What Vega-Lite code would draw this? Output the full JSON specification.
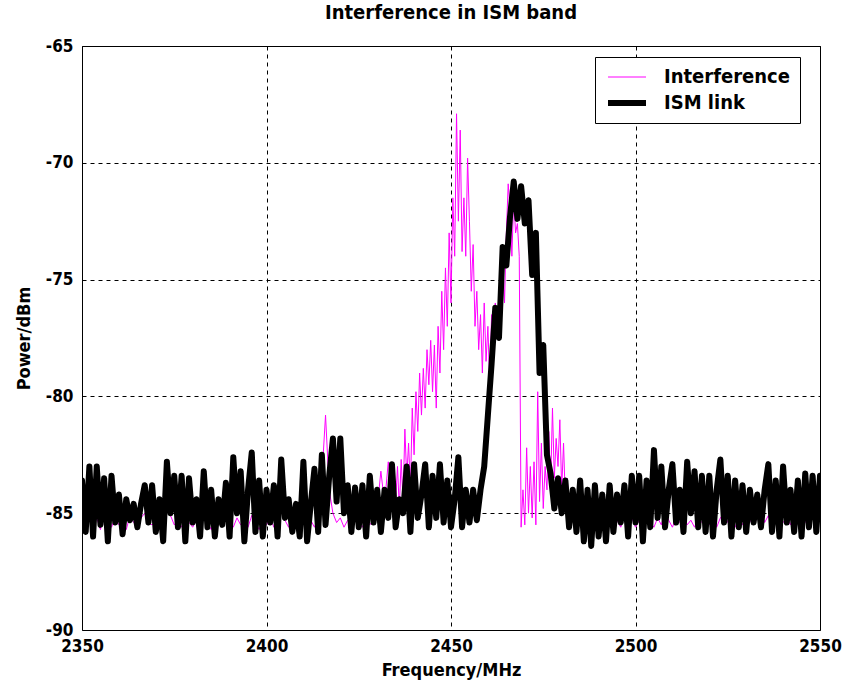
{
  "$schema": "https://vega.github.io/schema/vega-lite/v6.json",
  "width": 738,
  "height": 584,
  "autosize": "none",
  "padding": {"left": 82, "top": 46, "right": 23, "bottom": 60},
  "background": "white",
  "config": {
    "font": "DejaVu Sans Condensed, DejaVu Sans",
    "view": {"stroke": "black", "strokeWidth": 1},
    "axis": {
      "labelFont": "DejaVu Sans Condensed, DejaVu Sans", "labelFontWeight": "bold", "labelFontSize": 17, "labelColor": "black",
      "titleFont": "DejaVu Sans Condensed, DejaVu Sans", "titleFontWeight": "bold", "titleFontSize": 18, "titleColor": "black",
      "grid": true, "gridColor": "black", "gridDash": [4, 4], "gridOpacity": 1, "gridWidth": 1,
      "ticks": false, "domain": false
    },
    "title": {"font": "DejaVu Sans Condensed, DejaVu Sans", "fontWeight": "bold", "fontSize": 20, "color": "black"}
  },
  "title": {"text": "Interference in ISM band", "anchor": "middle", "offset": 14},
  "data": {"values": [
{"s":"Interference","f":2350,"p":-85.3},{"s":"Interference","f":2351,"p":-85.6},{"s":"Interference","f":2352,"p":-85.1},{"s":"Interference","f":2353,"p":-85.5},{"s":"Interference","f":2354,"p":-85.2},{"s":"Interference","f":2355,"p":-85.7},{"s":"Interference","f":2356,"p":-85.0},{"s":"Interference","f":2357,"p":-85.4},{"s":"Interference","f":2358,"p":-85.6},{"s":"Interference","f":2359,"p":-85.2},
{"s":"Interference","f":2360,"p":-85.5},{"s":"Interference","f":2361,"p":-85.3},{"s":"Interference","f":2362,"p":-85.7},{"s":"Interference","f":2363,"p":-85.1},{"s":"Interference","f":2364,"p":-85.4},{"s":"Interference","f":2365,"p":-85.6},{"s":"Interference","f":2366,"p":-85.2},{"s":"Interference","f":2367,"p":-85.0},{"s":"Interference","f":2368,"p":-85.4},{"s":"Interference","f":2369,"p":-85.5},
{"s":"Interference","f":2370,"p":-85.3},{"s":"Interference","f":2371,"p":-85.6},{"s":"Interference","f":2372,"p":-85.2},{"s":"Interference","f":2373,"p":-84.8},{"s":"Interference","f":2374,"p":-85.1},{"s":"Interference","f":2375,"p":-85.5},{"s":"Interference","f":2376,"p":-85.3},{"s":"Interference","f":2377,"p":-85.6},{"s":"Interference","f":2378,"p":-85.2},{"s":"Interference","f":2379,"p":-85.4},
{"s":"Interference","f":2380,"p":-85.6},{"s":"Interference","f":2381,"p":-85.3},{"s":"Interference","f":2382,"p":-85.5},{"s":"Interference","f":2383,"p":-85.1},{"s":"Interference","f":2384,"p":-85.4},{"s":"Interference","f":2385,"p":-85.7},{"s":"Interference","f":2386,"p":-85.2},{"s":"Interference","f":2387,"p":-85.5},{"s":"Interference","f":2388,"p":-85.3},{"s":"Interference","f":2389,"p":-85.0},
{"s":"Interference","f":2390,"p":-85.4},{"s":"Interference","f":2391,"p":-85.6},{"s":"Interference","f":2392,"p":-85.2},{"s":"Interference","f":2393,"p":-85.5},{"s":"Interference","f":2394,"p":-85.3},{"s":"Interference","f":2395,"p":-85.6},{"s":"Interference","f":2396,"p":-85.1},{"s":"Interference","f":2397,"p":-85.4},{"s":"Interference","f":2398,"p":-85.7},{"s":"Interference","f":2399,"p":-85.3},
{"s":"Interference","f":2400,"p":-85.5},{"s":"Interference","f":2401,"p":-85.2},{"s":"Interference","f":2402,"p":-85.6},{"s":"Interference","f":2403,"p":-85.4},{"s":"Interference","f":2404,"p":-84.9},{"s":"Interference","f":2405,"p":-85.3},{"s":"Interference","f":2406,"p":-85.6},{"s":"Interference","f":2407,"p":-85.2},{"s":"Interference","f":2408,"p":-85.5},{"s":"Interference","f":2409,"p":-85.4},
{"s":"Interference","f":2410,"p":-85.1},{"s":"Interference","f":2411,"p":-85.5},{"s":"Interference","f":2412,"p":-85.3},{"s":"Interference","f":2413,"p":-85.6},{"s":"Interference","f":2414,"p":-85.2},{"s":"Interference","f":2415,"p":-83.5},{"s":"Interference","f":2416,"p":-80.8},{"s":"Interference","f":2417,"p":-84.0},{"s":"Interference","f":2418,"p":-85.0},{"s":"Interference","f":2419,"p":-85.4},
{"s":"Interference","f":2420,"p":-85.2},{"s":"Interference","f":2421,"p":-85.6},{"s":"Interference","f":2422,"p":-85.3},{"s":"Interference","f":2423,"p":-85.5},{"s":"Interference","f":2424,"p":-85.1},{"s":"Interference","f":2425,"p":-85.4},{"s":"Interference","f":2426,"p":-85.6},{"s":"Interference","f":2427,"p":-85.2},{"s":"Interference","f":2428,"p":-85.5},{"s":"Interference","f":2429,"p":-85.3},
{"s":"Interference","f":2430,"p":-84.8},{"s":"Interference","f":2431,"p":-83.2},{"s":"Interference","f":2432,"p":-84.6},{"s":"Interference","f":2433,"p":-82.8},{"s":"Interference","f":2434,"p":-84.2},
{"s":"Interference","f":2435,"p":-84.5},{"s":"Interference","f":2435.5,"p":-83.0},{"s":"Interference","f":2436,"p":-84.8},{"s":"Interference","f":2436.5,"p":-82.7},{"s":"Interference","f":2437,"p":-84.5},{"s":"Interference","f":2437.5,"p":-81.4},{"s":"Interference","f":2438,"p":-83.5},{"s":"Interference","f":2438.5,"p":-82.0},{"s":"Interference","f":2439,"p":-84.0},{"s":"Interference","f":2439.5,"p":-80.5},
{"s":"Interference","f":2440,"p":-82.5},{"s":"Interference","f":2440.5,"p":-79.8},{"s":"Interference","f":2441,"p":-81.5},{"s":"Interference","f":2441.5,"p":-79.0},{"s":"Interference","f":2442,"p":-80.8},{"s":"Interference","f":2442.5,"p":-78.8},{"s":"Interference","f":2443,"p":-80.5},{"s":"Interference","f":2443.5,"p":-78.0},{"s":"Interference","f":2444,"p":-79.5},{"s":"Interference","f":2444.5,"p":-77.6},
{"s":"Interference","f":2445,"p":-79.8},{"s":"Interference","f":2445.5,"p":-77.8},{"s":"Interference","f":2446,"p":-80.5},{"s":"Interference","f":2446.5,"p":-77.0},{"s":"Interference","f":2447,"p":-79.0},{"s":"Interference","f":2447.5,"p":-75.5},{"s":"Interference","f":2448,"p":-78.0},{"s":"Interference","f":2448.5,"p":-74.5},{"s":"Interference","f":2449,"p":-77.0},{"s":"Interference","f":2449.5,"p":-73.0},
{"s":"Interference","f":2450,"p":-76.0},{"s":"Interference","f":2450.5,"p":-71.5},{"s":"Interference","f":2451,"p":-74.0},{"s":"Interference","f":2451.5,"p":-67.9},{"s":"Interference","f":2452,"p":-72.5},{"s":"Interference","f":2452.5,"p":-68.6},{"s":"Interference","f":2453,"p":-73.8},{"s":"Interference","f":2453.5,"p":-71.5},{"s":"Interference","f":2454,"p":-74.0},{"s":"Interference","f":2454.5,"p":-69.8},
{"s":"Interference","f":2455,"p":-72.5},{"s":"Interference","f":2455.5,"p":-75.5},{"s":"Interference","f":2456,"p":-73.5},{"s":"Interference","f":2456.5,"p":-77.0},{"s":"Interference","f":2457,"p":-75.5},{"s":"Interference","f":2457.5,"p":-78.0},{"s":"Interference","f":2458,"p":-76.5},{"s":"Interference","f":2458.5,"p":-79.0},{"s":"Interference","f":2459,"p":-76.0},{"s":"Interference","f":2459.5,"p":-78.5},
{"s":"Interference","f":2460,"p":-77.0},{"s":"Interference","f":2460.5,"p":-79.5},{"s":"Interference","f":2461,"p":-76.5},{"s":"Interference","f":2461.5,"p":-78.0},{"s":"Interference","f":2462,"p":-76.0},{"s":"Interference","f":2462.5,"p":-77.5},{"s":"Interference","f":2463,"p":-75.5},{"s":"Interference","f":2463.5,"p":-77.0},{"s":"Interference","f":2464,"p":-74.0},{"s":"Interference","f":2464.5,"p":-76.0},
{"s":"Interference","f":2465,"p":-73.0},{"s":"Interference","f":2465.5,"p":-70.9},{"s":"Interference","f":2466,"p":-72.0},{"s":"Interference","f":2466.5,"p":-74.0},{"s":"Interference","f":2467,"p":-71.5},{"s":"Interference","f":2467.5,"p":-73.0},{"s":"Interference","f":2468,"p":-72.6},{"s":"Interference","f":2468.5,"p":-74.0},{"s":"Interference","f":2469,"p":-85.6},{"s":"Interference","f":2469.5,"p":-84.0},
{"s":"Interference","f":2470,"p":-85.5},{"s":"Interference","f":2470.5,"p":-82.2},{"s":"Interference","f":2471,"p":-85.0},{"s":"Interference","f":2471.5,"p":-83.0},{"s":"Interference","f":2472,"p":-85.2},{"s":"Interference","f":2472.5,"p":-82.8},{"s":"Interference","f":2473,"p":-85.5},{"s":"Interference","f":2473.5,"p":-79.8},{"s":"Interference","f":2474,"p":-84.5},{"s":"Interference","f":2474.5,"p":-82.0},
{"s":"Interference","f":2475,"p":-84.8},{"s":"Interference","f":2475.5,"p":-83.0},{"s":"Interference","f":2476,"p":-84.0},{"s":"Interference","f":2476.5,"p":-81.5},{"s":"Interference","f":2477,"p":-83.8},{"s":"Interference","f":2477.5,"p":-80.5},{"s":"Interference","f":2478,"p":-83.5},{"s":"Interference","f":2478.5,"p":-81.8},{"s":"Interference","f":2479,"p":-83.0},{"s":"Interference","f":2479.5,"p":-81.0},
{"s":"Interference","f":2480,"p":-84.0},{"s":"Interference","f":2480.5,"p":-82.0},{"s":"Interference","f":2481,"p":-84.5},{"s":"Interference","f":2481.5,"p":-83.5},{"s":"Interference","f":2482,"p":-85.0},{"s":"Interference","f":2482.5,"p":-84.0},{"s":"Interference","f":2483,"p":-85.3},{"s":"Interference","f":2483.5,"p":-84.6},{"s":"Interference","f":2484,"p":-85.5},{"s":"Interference","f":2484.5,"p":-85.0},
{"s":"Interference","f":2485,"p":-85.3},
{"s":"Interference","f":2486,"p":-85.3},{"s":"Interference","f":2487,"p":-85.6},{"s":"Interference","f":2488,"p":-85.2},{"s":"Interference","f":2489,"p":-85.5},{"s":"Interference","f":2490,"p":-85.0},{"s":"Interference","f":2491,"p":-85.4},{"s":"Interference","f":2492,"p":-85.6},{"s":"Interference","f":2493,"p":-85.2},{"s":"Interference","f":2494,"p":-85.5},{"s":"Interference","f":2495,"p":-85.3},
{"s":"Interference","f":2496,"p":-85.6},{"s":"Interference","f":2497,"p":-85.1},{"s":"Interference","f":2498,"p":-85.4},{"s":"Interference","f":2499,"p":-85.2},{"s":"Interference","f":2500,"p":-85.6},{"s":"Interference","f":2501,"p":-85.3},{"s":"Interference","f":2502,"p":-85.5},{"s":"Interference","f":2503,"p":-85.0},{"s":"Interference","f":2504,"p":-85.4},{"s":"Interference","f":2505,"p":-85.6},
{"s":"Interference","f":2506,"p":-85.2},{"s":"Interference","f":2507,"p":-85.5},{"s":"Interference","f":2508,"p":-84.9},{"s":"Interference","f":2509,"p":-85.3},{"s":"Interference","f":2510,"p":-85.6},{"s":"Interference","f":2511,"p":-85.2},{"s":"Interference","f":2512,"p":-85.4},{"s":"Interference","f":2513,"p":-85.0},{"s":"Interference","f":2514,"p":-85.5},{"s":"Interference","f":2515,"p":-85.3},
{"s":"Interference","f":2516,"p":-85.6},{"s":"Interference","f":2517,"p":-85.2},{"s":"Interference","f":2518,"p":-85.4},{"s":"Interference","f":2519,"p":-85.1},{"s":"Interference","f":2520,"p":-85.5},{"s":"Interference","f":2521,"p":-85.3},{"s":"Interference","f":2522,"p":-85.6},{"s":"Interference","f":2523,"p":-85.2},{"s":"Interference","f":2524,"p":-85.0},{"s":"Interference","f":2525,"p":-85.4},
{"s":"Interference","f":2526,"p":-85.3},{"s":"Interference","f":2527,"p":-85.6},{"s":"Interference","f":2528,"p":-85.2},{"s":"Interference","f":2529,"p":-85.5},{"s":"Interference","f":2530,"p":-85.0},{"s":"Interference","f":2531,"p":-85.3},{"s":"Interference","f":2532,"p":-85.5},{"s":"Interference","f":2533,"p":-85.2},{"s":"Interference","f":2534,"p":-84.9},{"s":"Interference","f":2535,"p":-85.4},
{"s":"Interference","f":2536,"p":-85.1},{"s":"Interference","f":2537,"p":-85.5},{"s":"Interference","f":2538,"p":-85.3},{"s":"Interference","f":2539,"p":-85.0},{"s":"Interference","f":2540,"p":-85.4},{"s":"Interference","f":2541,"p":-85.2},{"s":"Interference","f":2542,"p":-85.5},{"s":"Interference","f":2543,"p":-84.9},{"s":"Interference","f":2544,"p":-85.3},{"s":"Interference","f":2545,"p":-85.1},
{"s":"Interference","f":2546,"p":-85.4},{"s":"Interference","f":2547,"p":-85.2},{"s":"Interference","f":2548,"p":-85.0},{"s":"Interference","f":2549,"p":-85.3},{"s":"Interference","f":2550,"p":-84.9},
{"s":"ISM link","f":2350,"p":-83.6},{"s":"ISM link","f":2351,"p":-85.8},{"s":"ISM link","f":2352,"p":-83.0},{"s":"ISM link","f":2353,"p":-86.0},{"s":"ISM link","f":2354,"p":-83.0},{"s":"ISM link","f":2355,"p":-85.5},{"s":"ISM link","f":2356,"p":-83.5},{"s":"ISM link","f":2357,"p":-86.2},{"s":"ISM link","f":2358,"p":-83.4},{"s":"ISM link","f":2359,"p":-85.4},
{"s":"ISM link","f":2360,"p":-84.2},{"s":"ISM link","f":2361,"p":-85.9},{"s":"ISM link","f":2362,"p":-84.4},{"s":"ISM link","f":2363,"p":-85.3},{"s":"ISM link","f":2364,"p":-84.6},{"s":"ISM link","f":2365,"p":-85.6},{"s":"ISM link","f":2366,"p":-84.6},{"s":"ISM link","f":2367,"p":-83.8},{"s":"ISM link","f":2368,"p":-85.4},{"s":"ISM link","f":2369,"p":-83.8},
{"s":"ISM link","f":2370,"p":-85.8},{"s":"ISM link","f":2371,"p":-84.4},{"s":"ISM link","f":2372,"p":-86.2},{"s":"ISM link","f":2373,"p":-82.8},{"s":"ISM link","f":2374,"p":-85.0},{"s":"ISM link","f":2375,"p":-83.4},{"s":"ISM link","f":2376,"p":-85.6},{"s":"ISM link","f":2377,"p":-83.4},{"s":"ISM link","f":2378,"p":-86.2},{"s":"ISM link","f":2379,"p":-83.5},
{"s":"ISM link","f":2380,"p":-85.4},{"s":"ISM link","f":2381,"p":-84.4},{"s":"ISM link","f":2382,"p":-86.0},{"s":"ISM link","f":2383,"p":-83.2},{"s":"ISM link","f":2384,"p":-85.6},{"s":"ISM link","f":2385,"p":-84.0},{"s":"ISM link","f":2386,"p":-86.0},{"s":"ISM link","f":2387,"p":-84.4},{"s":"ISM link","f":2388,"p":-85.5},{"s":"ISM link","f":2389,"p":-83.7},
{"s":"ISM link","f":2390,"p":-86.0},{"s":"ISM link","f":2391,"p":-82.6},{"s":"ISM link","f":2392,"p":-85.0},{"s":"ISM link","f":2393,"p":-83.2},{"s":"ISM link","f":2394,"p":-86.2},{"s":"ISM link","f":2395,"p":-84.0},{"s":"ISM link","f":2396,"p":-82.4},{"s":"ISM link","f":2397,"p":-85.8},{"s":"ISM link","f":2398,"p":-83.6},{"s":"ISM link","f":2399,"p":-86.0},
{"s":"ISM link","f":2400,"p":-84.0},{"s":"ISM link","f":2401,"p":-85.4},{"s":"ISM link","f":2402,"p":-83.8},{"s":"ISM link","f":2403,"p":-86.0},{"s":"ISM link","f":2404,"p":-82.7},{"s":"ISM link","f":2405,"p":-85.2},{"s":"ISM link","f":2406,"p":-84.4},{"s":"ISM link","f":2407,"p":-85.8},{"s":"ISM link","f":2408,"p":-84.6},{"s":"ISM link","f":2409,"p":-86.0},
{"s":"ISM link","f":2410,"p":-82.8},{"s":"ISM link","f":2411,"p":-86.2},{"s":"ISM link","f":2412,"p":-84.6},{"s":"ISM link","f":2413,"p":-83.1},{"s":"ISM link","f":2414,"p":-85.8},{"s":"ISM link","f":2415,"p":-82.5},{"s":"ISM link","f":2416,"p":-85.5},{"s":"ISM link","f":2417,"p":-83.4},{"s":"ISM link","f":2418,"p":-81.8},{"s":"ISM link","f":2419,"p":-84.5},
{"s":"ISM link","f":2420,"p":-81.8},{"s":"ISM link","f":2421,"p":-85.0},{"s":"ISM link","f":2422,"p":-83.8},{"s":"ISM link","f":2423,"p":-85.8},{"s":"ISM link","f":2424,"p":-83.9},{"s":"ISM link","f":2425,"p":-85.6},{"s":"ISM link","f":2426,"p":-83.8},{"s":"ISM link","f":2427,"p":-86.0},{"s":"ISM link","f":2428,"p":-83.4},{"s":"ISM link","f":2429,"p":-85.4},
{"s":"ISM link","f":2430,"p":-84.0},{"s":"ISM link","f":2431,"p":-85.8},{"s":"ISM link","f":2432,"p":-84.0},{"s":"ISM link","f":2433,"p":-85.2},{"s":"ISM link","f":2434,"p":-82.9},{"s":"ISM link","f":2435,"p":-85.6},{"s":"ISM link","f":2436,"p":-84.4},{"s":"ISM link","f":2437,"p":-85.0},{"s":"ISM link","f":2438,"p":-83.0},{"s":"ISM link","f":2439,"p":-85.8},
{"s":"ISM link","f":2440,"p":-82.9},{"s":"ISM link","f":2441,"p":-85.2},{"s":"ISM link","f":2442,"p":-84.2},{"s":"ISM link","f":2443,"p":-82.9},{"s":"ISM link","f":2444,"p":-85.6},{"s":"ISM link","f":2445,"p":-83.4},{"s":"ISM link","f":2446,"p":-85.2},{"s":"ISM link","f":2447,"p":-82.9},{"s":"ISM link","f":2448,"p":-85.4},{"s":"ISM link","f":2449,"p":-83.6},
{"s":"ISM link","f":2450,"p":-85.6},{"s":"ISM link","f":2451,"p":-84.4},{"s":"ISM link","f":2452,"p":-82.6},{"s":"ISM link","f":2453,"p":-85.6},{"s":"ISM link","f":2454,"p":-84.0},{"s":"ISM link","f":2455,"p":-85.4},{"s":"ISM link","f":2456,"p":-84.0},{"s":"ISM link","f":2457,"p":-85.3},{"s":"ISM link","f":2458,"p":-84.0},{"s":"ISM link","f":2459,"p":-83.0},
{"s":"ISM link","f":2460,"p":-80.8},{"s":"ISM link","f":2461,"p":-78.6},{"s":"ISM link","f":2462,"p":-76.2},{"s":"ISM link","f":2463,"p":-77.5},{"s":"ISM link","f":2464,"p":-73.6},{"s":"ISM link","f":2465,"p":-74.4},{"s":"ISM link","f":2466,"p":-72.3},{"s":"ISM link","f":2467,"p":-70.8},{"s":"ISM link","f":2468,"p":-72.4},{"s":"ISM link","f":2469,"p":-71.0},
{"s":"ISM link","f":2470,"p":-72.6},{"s":"ISM link","f":2471,"p":-71.6},{"s":"ISM link","f":2472,"p":-74.8},{"s":"ISM link","f":2473,"p":-73.0},{"s":"ISM link","f":2474,"p":-79.0},{"s":"ISM link","f":2475,"p":-77.8},{"s":"ISM link","f":2476,"p":-82.5},{"s":"ISM link","f":2477,"p":-83.3},{"s":"ISM link","f":2478,"p":-84.8},{"s":"ISM link","f":2479,"p":-83.5},
{"s":"ISM link","f":2480,"p":-85.0},{"s":"ISM link","f":2481,"p":-83.6},{"s":"ISM link","f":2482,"p":-85.6},{"s":"ISM link","f":2483,"p":-84.0},{"s":"ISM link","f":2484,"p":-85.8},{"s":"ISM link","f":2485,"p":-83.6},{"s":"ISM link","f":2486,"p":-86.2},{"s":"ISM link","f":2487,"p":-84.0},{"s":"ISM link","f":2488,"p":-86.4},{"s":"ISM link","f":2489,"p":-83.8},
{"s":"ISM link","f":2490,"p":-86.0},{"s":"ISM link","f":2491,"p":-84.2},{"s":"ISM link","f":2492,"p":-86.2},{"s":"ISM link","f":2493,"p":-83.8},{"s":"ISM link","f":2494,"p":-85.8},{"s":"ISM link","f":2495,"p":-84.2},{"s":"ISM link","f":2496,"p":-85.4},{"s":"ISM link","f":2497,"p":-83.8},{"s":"ISM link","f":2498,"p":-86.0},{"s":"ISM link","f":2499,"p":-83.4},
{"s":"ISM link","f":2500,"p":-85.4},{"s":"ISM link","f":2501,"p":-83.4},{"s":"ISM link","f":2502,"p":-86.2},{"s":"ISM link","f":2503,"p":-83.6},{"s":"ISM link","f":2504,"p":-85.6},{"s":"ISM link","f":2505,"p":-82.3},{"s":"ISM link","f":2506,"p":-85.2},{"s":"ISM link","f":2507,"p":-83.0},{"s":"ISM link","f":2508,"p":-85.6},{"s":"ISM link","f":2509,"p":-84.0},
{"s":"ISM link","f":2510,"p":-82.9},{"s":"ISM link","f":2511,"p":-85.4},{"s":"ISM link","f":2512,"p":-84.0},{"s":"ISM link","f":2513,"p":-85.8},{"s":"ISM link","f":2514,"p":-82.8},{"s":"ISM link","f":2515,"p":-85.0},{"s":"ISM link","f":2516,"p":-83.2},{"s":"ISM link","f":2517,"p":-85.6},{"s":"ISM link","f":2518,"p":-83.4},{"s":"ISM link","f":2519,"p":-85.8},
{"s":"ISM link","f":2520,"p":-83.4},{"s":"ISM link","f":2521,"p":-86.0},{"s":"ISM link","f":2522,"p":-84.0},{"s":"ISM link","f":2523,"p":-82.7},{"s":"ISM link","f":2524,"p":-85.4},{"s":"ISM link","f":2525,"p":-83.4},{"s":"ISM link","f":2526,"p":-86.0},{"s":"ISM link","f":2527,"p":-83.6},{"s":"ISM link","f":2528,"p":-85.6},{"s":"ISM link","f":2529,"p":-83.8},
{"s":"ISM link","f":2530,"p":-85.8},{"s":"ISM link","f":2531,"p":-84.0},{"s":"ISM link","f":2532,"p":-85.4},{"s":"ISM link","f":2533,"p":-84.2},{"s":"ISM link","f":2534,"p":-85.6},{"s":"ISM link","f":2535,"p":-84.0},{"s":"ISM link","f":2536,"p":-82.9},{"s":"ISM link","f":2537,"p":-85.8},{"s":"ISM link","f":2538,"p":-83.6},{"s":"ISM link","f":2539,"p":-86.0},
{"s":"ISM link","f":2540,"p":-83.0},{"s":"ISM link","f":2541,"p":-85.4},{"s":"ISM link","f":2542,"p":-84.0},{"s":"ISM link","f":2543,"p":-85.8},{"s":"ISM link","f":2544,"p":-83.6},{"s":"ISM link","f":2545,"p":-86.0},{"s":"ISM link","f":2546,"p":-83.3},{"s":"ISM link","f":2547,"p":-85.6},{"s":"ISM link","f":2548,"p":-83.4},{"s":"ISM link","f":2549,"p":-85.8},
{"s":"ISM link","f":2550,"p":-83.4}
  ]},
  "encoding": {
    "x": {"field": "f", "type": "quantitative",
      "scale": {"domain": [2350, 2550], "nice": false, "zero": false},
      "axis": {"values": [2350, 2400, 2450, 2500, 2550], "title": "Frequency/MHz", "labelPadding": 8, "titlePadding": 7, "labelExpr": "'' + datum.value", "labelFlush": false, "labelOverlap": false}},
    "y": {"field": "p", "type": "quantitative",
      "scale": {"domain": [-90, -65], "nice": false, "zero": false},
      "axis": {"values": [-90, -85, -80, -75, -70, -65], "title": "Power/dBm", "labelPadding": 9, "titlePadding": 12, "labelExpr": "'' + datum.value", "labelFlush": false, "labelOverlap": false}},
    "color": {"field": "s", "type": "nominal",
      "scale": {"domain": ["Interference", "ISM link"], "range": ["#ff00ff", "#000000"]},
      "legend": {"title": null, "orient": "none", "legendX": 513, "legendY": 11,
        "symbolType": "stroke", "symbolSize": 1444, "clipHeight": 20, "rowPadding": 6, "padding": 10,
        "labelFont": "DejaVu Sans Condensed, DejaVu Sans", "labelFontWeight": "bold", "labelFontSize": 20, "labelColor": "black", "labelOffset": 15,
        "strokeColor": "black", "fillColor": "white", "labelLimit": 300}},
    "strokeWidth": {"field": "s", "type": "nominal",
      "scale": {"domain": ["Interference", "ISM link"], "range": [1, 6]},
      "legend": {"title": null, "orient": "none", "legendX": 513, "legendY": 11,
        "symbolType": "stroke", "symbolSize": 1444, "clipHeight": 20, "rowPadding": 6, "padding": 10,
        "labelFont": "DejaVu Sans Condensed, DejaVu Sans", "labelFontWeight": "bold", "labelFontSize": 20, "labelColor": "black", "labelOffset": 15,
        "strokeColor": "black", "fillColor": "white", "labelLimit": 300}}
  },
  "layer": [
    {"transform": [{"filter": "datum.s == 'Interference'"}],
     "mark": {"type": "line", "interpolate": "linear", "clip": true}},
    {"transform": [{"filter": "datum.s == 'ISM link'"}],
     "mark": {"type": "line", "interpolate": "linear", "strokeJoin": "round", "strokeCap": "round", "clip": true}}
  ]
}
